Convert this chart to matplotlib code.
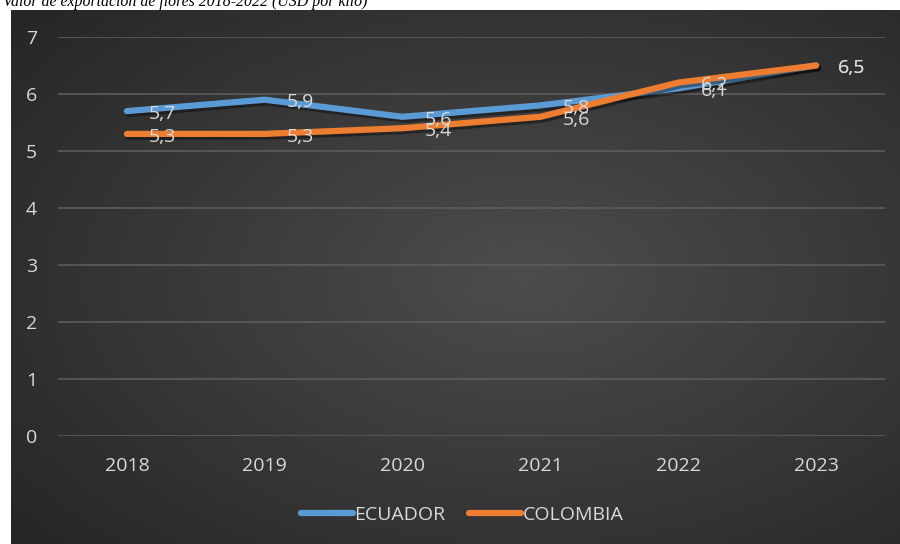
import matplotlib.pyplot as plt
import matplotlib.patheffects as pe
import numpy as np

years = ['2018', '2019', '2020', '2021', '2022', '2023']
ecuador = [5.7, 5.9, 5.6, 5.8, 6.1, 6.5]
colombia = [5.3, 5.3, 5.4, 5.6, 6.2, 6.5]

plt.rcParams['font.family'] = ['Open Sans', 'DejaVu Sans']

W, H = 900, 544
fig = plt.figure(figsize=(W / 100, H / 100), dpi=100)
fig.patch.set_facecolor('white')

# dark panel with radial gradient
bg = fig.add_axes([11 / W, 0, 889 / W, 534 / H])
bg.set_axis_off()
gx, gy = np.meshgrid(np.linspace(0, 1, 400), np.linspace(0, 1, 250))
r = np.sqrt(((gx - 0.58) / 0.75) ** 2 + ((gy - 0.5) / 0.75) ** 2)
shade = np.clip(0.30 - 0.15 * r, 0.15, 0.30)
bg.imshow(np.dstack([shade] * 3), aspect='auto', extent=[0, 1, 0, 1], origin='lower')
bg.set_xlim(0, 1)
bg.set_ylim(0, 1)

fig.text(3 / W, 1 - 6 / H, 'Valor de exportación de flores 2018-2022 (USD por kilo)',
         family='Liberation Serif', style='italic', fontsize=11.4, color='black',
         va='baseline', ha='left', zorder=0)

ax = fig.add_axes([58 / W, 108 / H, 827 / W, 399 / H])
ax.set_facecolor('none')
x = np.arange(len(years))
ax.set_xlim(-0.5, len(years) - 0.5)
ax.set_ylim(0, 7)
ax.set_yticks(range(0, 8))
ax.set_xticks(x)
ax.set_xticklabels(years)
for s in ax.spines.values():
    s.set_visible(False)
ax.grid(axis='y', color='#5c5c5c', linewidth=1.2)
ax.set_axisbelow(True)
ax.tick_params(length=0, colors='#d9d9d9', labelsize=14)
ax.tick_params(axis='y', pad=15)
ax.tick_params(axis='x', pad=15)

shadow = [pe.SimpleLineShadow(offset=(1.5, -2), shadow_color='black', alpha=0.4),
          pe.Normal()]
for vals, col, name in [(ecuador, '#5b9bd5', 'ECUADOR'), (colombia, '#ed7d31', 'COLOMBIA')]:
    ax.plot(x, vals, color=col, lw=4.5, solid_capstyle='round', solid_joinstyle='round',
            label=name, path_effects=shadow, zorder=3)
    for xi, v in zip(x, vals):
        ax.annotate(f'{v:.1f}'.replace('.', ','), (xi, v), xytext=(16, -2),
                    textcoords='offset points', ha='left', va='center',
                    color='#d9d9d9', fontsize=14, zorder=4)

leg = fig.legend(loc='center', bbox_to_anchor=(462 / W, 1 - 515 / H), ncol=2,
                 frameon=False, fontsize=14, handlelength=2.7, handletextpad=0.05,
                 columnspacing=1.2)
for t in leg.get_texts():
    t.set_color('#d9d9d9')
for h in leg.get_lines():
    h.set_path_effects([])
    h.set_linewidth(4.5)
    h.set_solid_capstyle('round')

fig.savefig('out.png', dpi=100, facecolor='white')
